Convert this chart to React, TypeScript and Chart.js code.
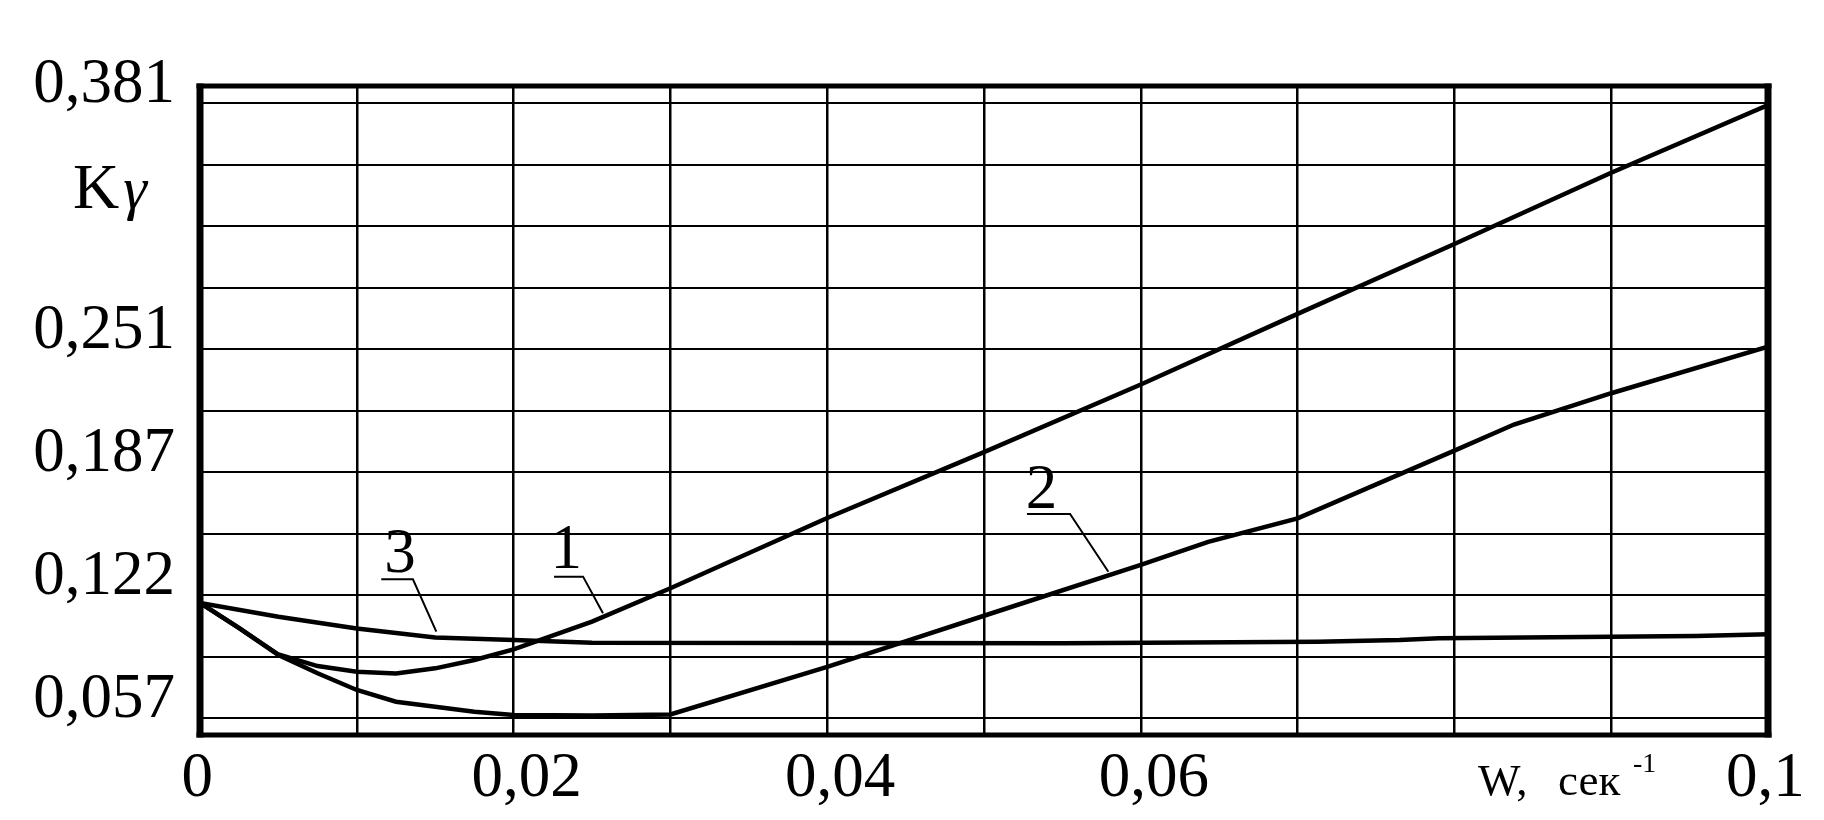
import React, { useEffect, useRef } from 'react';
import { Chart, registerables } from 'chart.js';

Chart.register(...registerables);

// ---- data (w, 1/s  ->  K_gamma) ----
const curve1W = [0, 0.0025, 0.005, 0.0075, 0.01, 0.0125, 0.015, 0.0175, 0.02, 0.025, 0.03, 0.04, 0.05, 0.06, 0.07, 0.08, 0.09, 0.1];
const curve1K = [0.1178, 0.1045, 0.0906, 0.0845, 0.0815, 0.0806, 0.0833, 0.0877, 0.0933, 0.1079, 0.1255, 0.1625, 0.1972, 0.2328, 0.27, 0.3068, 0.3443, 0.38];

const curve2W = [0, 0.0025, 0.005, 0.0075, 0.01, 0.0125, 0.015, 0.0175, 0.02, 0.025, 0.03, 0.04, 0.0446, 0.05, 0.06, 0.0643, 0.07, 0.08, 0.0838, 0.09, 0.1];
const curve2K = [0.1178, 0.1045, 0.0903, 0.0807, 0.0719, 0.0657, 0.0631, 0.0605, 0.0587, 0.0585, 0.059, 0.0841, 0.0965, 0.111, 0.1378, 0.1499, 0.1623, 0.198, 0.2117, 0.2282, 0.2527];

const curve3W = [0, 0.005, 0.01, 0.015, 0.02, 0.025, 0.055, 0.0713, 0.0765, 0.079, 0.0954, 0.1];
const curve3K = [0.1178, 0.1105, 0.1043, 0.0995, 0.0982, 0.0968, 0.0965, 0.0973, 0.0982, 0.0991, 0.1004, 0.1012];

// ---- axes ----
const xGrid = [0, 0.01, 0.02, 0.03, 0.04, 0.05, 0.06, 0.07, 0.08, 0.09, 0.1];
const xTickLabels = ['0', '', '0,02', '', '0,04', '', '0,06', '', '', '', '0,1'];
const yGrid = [0.057, 0.0894, 0.1218, 0.1542, 0.1866, 0.219, 0.2514, 0.2838, 0.3162, 0.3486, 0.381];
const yTickLabels = ['0,057', '', '0,122', '', '0,187', '', '0,251', '', '', '', '0,381'];
const xMin = 0;
const xMax = 0.1;
const yMin = 0.0482;
const yMax = 0.39;

// curve labels with leader lines (data coordinates)
const curveLabels = ['3', '1', '2'];
const labelTextW = [0.01276, 0.02336, 0.05367];
const labelTextK = [0.1341, 0.1362, 0.1678];
const labelLineW0 = [0.01156, 0.02258, 0.05274];
const labelLineW1 = [0.01358, 0.02443, 0.05549];
const labelLineK = [0.1302, 0.1316, 0.1646];
const labelTipW = [0.01507, 0.0257, 0.05793];
const labelTipK = [0.1026, 0.1123, 0.1342];

const FONT = '"Liberation Serif", "Times New Roman", serif';

const toPoints = (w: number[], k: number[]) => w.map((x, i) => ({ x, y: k[i] }));

const framePlugin = {
  id: 'frame',
  afterDatasetsDraw(chart: any) {
    const { ctx, chartArea: a } = chart;
    ctx.save();
    ctx.strokeStyle = '#000';
    ctx.lineCap = 'butt';
    ctx.lineWidth = 5;
    ctx.beginPath();
    ctx.moveTo(a.left - 3.5, a.top);
    ctx.lineTo(a.right + 3.5, a.top);
    ctx.moveTo(a.left - 3.5, a.bottom);
    ctx.lineTo(a.right + 3.5, a.bottom);
    ctx.stroke();
    ctx.lineWidth = 7;
    ctx.beginPath();
    ctx.moveTo(a.left, a.top - 2.5);
    ctx.lineTo(a.left, a.bottom + 2.5);
    ctx.moveTo(a.right, a.top - 2.5);
    ctx.lineTo(a.right, a.bottom + 2.5);
    ctx.stroke();
    ctx.restore();
  },
};

const annotationPlugin = {
  id: 'annot',
  afterDraw(chart: any) {
    const { ctx } = chart;
    const xs = chart.scales.x;
    const ys = chart.scales.y;
    ctx.save();
    ctx.fillStyle = '#000';
    ctx.strokeStyle = '#000';
    // curve numbers
    ctx.font = `63px ${FONT}`;
    ctx.textAlign = 'center';
    ctx.textBaseline = 'alphabetic';
    ctx.lineWidth = 2;
    curveLabels.forEach((t, i) => {
      ctx.fillText(t, xs.getPixelForValue(labelTextW[i]), ys.getPixelForValue(labelTextK[i]));
      ctx.beginPath();
      ctx.moveTo(xs.getPixelForValue(labelLineW0[i]), ys.getPixelForValue(labelLineK[i]));
      ctx.lineTo(xs.getPixelForValue(labelLineW1[i]), ys.getPixelForValue(labelLineK[i]));
      ctx.lineTo(xs.getPixelForValue(labelTipW[i]), ys.getPixelForValue(labelTipK[i]));
      ctx.stroke();
    });
    // axis titles
    ctx.textAlign = 'left';
    ctx.font = `64px ${FONT}`;
    ctx.fillText('K', 73, 208);
    const kw = ctx.measureText('K').width;
    ctx.font = `italic 60px ${FONT}`;
    ctx.fillText('γ', 73 + kw + 4, 208);
    ctx.font = `45px ${FONT}`;
    ctx.fillText('W,', 1478, 795);
    ctx.fillText('сек', 1558, 795);
    ctx.font = `28px ${FONT}`;
    ctx.fillText('-1', 1633, 772);
    ctx.restore();
  },
};

export default function App() {
  const ref = useRef<HTMLCanvasElement | null>(null);

  useEffect(() => {
    if (!ref.current) return;
    const ds = (w: number[], k: number[]) => ({
      data: toPoints(w, k),
      borderColor: '#000',
      backgroundColor: '#000',
      borderWidth: 4.5,
      pointRadius: 0,
      tension: 0,
      fill: false,
    });
    const chart = new Chart(ref.current, {
      type: 'line',
      data: {
        datasets: [ds(curve1W, curve1K), ds(curve2W, curve2K), ds(curve3W, curve3K)],
      },
      options: {
        animation: false,
        responsive: true,
        maintainAspectRatio: false,
        layout: { padding: { top: 86, right: 56, left: 0, bottom: 0 } },
        plugins: { legend: { display: false }, tooltip: { enabled: false } },
        scales: {
          x: {
            type: 'linear',
            min: xMin,
            max: xMax,
            border: { display: false },
            grid: { color: '#000', lineWidth: 2.5, drawTicks: false, tickLength: 0 },
            afterBuildTicks: (s: any) => {
              s.ticks = xGrid.map((v) => ({ value: v }));
            },
            afterFit: (s: any) => {
              s.height = 85;
              s.paddingLeft = 0;
              s.paddingRight = 0;
            },
            ticks: {
              autoSkip: false,
              maxRotation: 0,
              minRotation: 0,
              padding: 7,
              labelOffset: 13,
              color: '#000',
              font: { family: FONT, size: 63 },
              callback: (_v: any, i: number) => {
                const t = xTickLabels[i] || '';
                if (i === 0 || i === xGrid.length - 1) return t + '  ';
                return t;
              },
            },
          },
          y: {
            type: 'linear',
            min: yMin,
            max: yMax,
            border: { display: false },
            grid: { color: '#000', lineWidth: 2, drawTicks: false, tickLength: 0 },
            afterBuildTicks: (s: any) => {
              s.ticks = yGrid.map((v) => ({ value: v }));
            },
            afterFit: (s: any) => {
              s.width = 200;
              s.paddingTop = 0;
              s.paddingBottom = 0;
            },
            ticks: {
              autoSkip: false,
              padding: 25,
              labelOffset: -18,
              color: '#000',
              font: { family: FONT, size: 63 },
              callback: (_v: any, i: number) => yTickLabels[i] || '',
            },
          },
        },
      },
      plugins: [framePlugin, annotationPlugin],
    } as any);
    return () => chart.destroy();
  }, []);

  return (
    <div style={{ position: 'absolute', left: 0, top: 0, width: 1824, height: 820, background: '#fff' }}>
      <canvas ref={ref} />
    </div>
  );
}
